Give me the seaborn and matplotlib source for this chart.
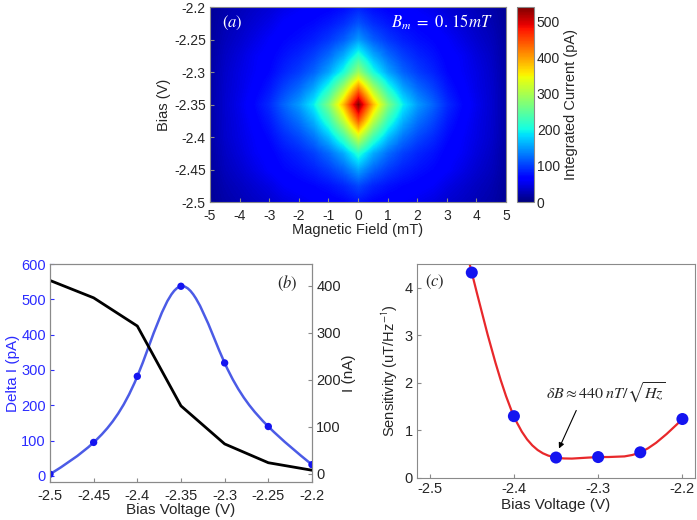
import numpy as np
import pandas as pd
import seaborn as sns
import matplotlib
matplotlib.use("Agg")
import matplotlib.pyplot as plt
from matplotlib.path import Path
from matplotlib.patches import PathPatch

# ---------------- data ----------------
# (a) heatmap: profile through the peak along the field axis (B >= 0, mirrored)
field_offsets = [0, 0.5, 1, 1.5, 2, 2.5, 3, 3.5, 4, 4.5, 5]
field_profile = [540, 385, 272, 195, 150, 122, 90, 70, 52, 38, 18]
# profile through the peak along the bias axis (B = 0)
bias_levels = [-2.5, -2.475, -2.45, -2.425, -2.4, -2.375, -2.35,
               -2.325, -2.3, -2.275, -2.25, -2.225, -2.2]
bias_profile = [78, 105, 155, 215, 325, 440, 540, 420, 290, 215, 150, 112, 85]
peak_current = 540

field_ticks = [-5, -4, -3, -2, -1, 0, 1, 2, 3, 4, 5]
bias_ticks = [-2.5, -2.45, -2.4, -2.35, -2.3, -2.25, -2.2]
bias_tick_labels = ["-2.5", "-2.45", "-2.4", "-2.35", "-2.3", "-2.25", "-2.2"]
cbar_ticks = [0, 100, 200, 300, 400, 500]

# (b)
bias_b = [-2.5, -2.45, -2.4, -2.35, -2.3, -2.25, -2.2]
delta_i = [5, 95, 282, 537, 320, 140, 32]
current_na = [411, 374, 314, 144, 63, 23, 7]
delta_ticks = [0, 100, 200, 300, 400, 500, 600]
current_ticks = [0, 100, 200, 300, 400]

# (c)
bias_c = [-2.45, -2.4, -2.35, -2.3, -2.25, -2.2]
sensitivity = [4.32, 1.3, 0.43, 0.44, 0.54, 1.24]
c_xticks = [-2.5, -2.4, -2.3, -2.2]
c_xtick_labels = ["-2.5", "-2.4", "-2.3", "-2.2"]
c_yticks = [0, 1, 2, 3, 4]

# ---------------- style ----------------
sns.set_style("ticks")
plt.rcParams["font.family"] = ["Liberation Sans", "DejaVu Sans"]
plt.rcParams["mathtext.fontset"] = "stix"
SPINE = "#8a8a8a"
BLUE_TXT = "#2b2bff"


def spline_path(x, y, extend_left=0.0):
    x = np.asarray(x, float)
    y = np.asarray(y, float)
    n = len(x)
    h = np.diff(x)
    A = np.zeros((n, n))
    r = np.zeros(n)
    A[0, 0] = 1
    A[-1, -1] = 1
    for i in range(1, n - 1):
        A[i, i - 1] = h[i - 1]
        A[i, i] = 2 * (h[i - 1] + h[i])
        A[i, i + 1] = h[i]
        r[i] = 6 * ((y[i + 1] - y[i]) / h[i] - (y[i] - y[i - 1]) / h[i - 1])
    M = np.linalg.solve(A, r)
    m = np.zeros(n)
    for i in range(n - 1):
        m[i] = (y[i + 1] - y[i]) / h[i] - h[i] * (2 * M[i] + M[i + 1]) / 6
    m[-1] = (y[-1] - y[-2]) / h[-1] + h[-1] * (M[-2] + 2 * M[-1]) / 6
    verts, codes = [], []
    if extend_left > 0:
        verts.append((x[0] - extend_left, y[0] - extend_left * m[0]))
        codes.append(Path.MOVETO)
        verts.append((x[0], y[0]))
        codes.append(Path.LINETO)
    else:
        verts.append((x[0], y[0]))
        codes.append(Path.MOVETO)
    for i in range(n - 1):
        d = h[i] / 3
        verts += [(x[i] + d, y[i] + m[i] * d),
                  (x[i + 1] - d, y[i + 1] - m[i + 1] * d),
                  (x[i + 1], y[i + 1])]
        codes += [Path.CURVE4] * 3
    return Path(verts, codes)


def style_spines(ax):
    for s in ax.spines.values():
        s.set_color(SPINE)
        s.set_linewidth(0.8)


fig = plt.figure(figsize=(6.97, 5.2), dpi=100)
ax_a = fig.add_axes([0.3013, 0.6115, 0.4247, 0.375])
cax = fig.add_axes([0.7418, 0.6115, 0.0244, 0.375])
ax_b = fig.add_axes([0.0717, 0.0731, 0.3759, 0.4192])
ax_c = fig.add_axes([0.5983, 0.0808, 0.3989, 0.4115])

# ---------------- (a) heatmap ----------------
fo = np.asarray(field_offsets, float)
fp = np.asarray(field_profile, float)
field_full = np.concatenate([-fo[:0:-1], fo])
prof_full = np.concatenate([fp[:0:-1], fp])
dB = np.log(peak_current / prof_full)[None, :]
dV = np.log(peak_current / np.asarray(bias_profile, float))[:, None]
d_diamond = dB + dV                      # sharp diamond near the peak
d_round = np.sqrt(dB ** 2 + dV ** 2)     # rounded contours far out
w = np.clip((d_diamond - 1.0) / 2.0, 0, 1)
Z = peak_current * np.exp(-((1 - w) * d_diamond + w * d_round))
heat = pd.DataFrame(Z, index=bias_levels, columns=field_full)

dx = (field_full[1] - field_full[0]) / 2
dy = (bias_levels[1] - bias_levels[0]) / 2
img = ax_a.imshow(heat.values, origin="lower", cmap="jet", vmin=0, vmax=540,
                  aspect="auto", interpolation="bilinear",
                  interpolation_stage="data",
                  extent=[field_full[0] - dx, field_full[-1] + dx,
                          bias_levels[0] - dy, bias_levels[-1] + dy])
ax_a.set_xlim(-5, 5)
ax_a.set_ylim(-2.5, -2.2)
ax_a.set_xticks(field_ticks)
ax_a.set_xticklabels([str(t) for t in field_ticks])
ax_a.set_yticks(bias_ticks)
ax_a.set_yticklabels(bias_tick_labels)
ax_a.tick_params(direction="in", length=3, labelsize=10, color=SPINE, pad=3)
ax_a.tick_params(axis="x", pad=5)
ax_a.set_xlabel("Magnetic Field (mT)", fontsize=10.5, labelpad=0)
ax_a.set_ylabel("Bias (V)", fontsize=10.5, labelpad=2)
style_spines(ax_a)
ax_a.text(0.04, 0.92, r"$(a)$", transform=ax_a.transAxes, color="white",
          fontsize=12, ha="left", va="center")
ax_a.text(0.955, 0.92, r"$B_m\ =\ 0.\,15mT$", transform=ax_a.transAxes,
          color="white", fontsize=12, ha="right", va="center")

cb = fig.colorbar(img, cax=cax)
cb.set_ticks(cbar_ticks)
cb.ax.tick_params(labelsize=10, length=0, pad=2)
cb.set_label("Integrated Current (pA)", fontsize=10.5, labelpad=3)
cb.outline.set_edgecolor(SPINE)
cb.outline.set_linewidth(0.8)

# ---------------- (b) ----------------
ax_b2 = ax_b.twinx()
ax_b.add_patch(PathPatch(spline_path(bias_b, delta_i), fill=False,
                         edgecolor="#4b5be6", lw=1.8, zorder=2))
sns.scatterplot(x=bias_b, y=delta_i, ax=ax_b, color="#1414f0", s=28,
                edgecolor="none", zorder=3)
sns.lineplot(x=bias_b, y=current_na, ax=ax_b2, color="black", lw=2,
             sort=False, estimator=None)
ax_b.set_xlim(-2.5, -2.2)
ax_b.set_ylim(-17, 600)
ax_b2.set_ylim(-18, 446)
ax_b.set_xticks(bias_ticks)
ax_b.set_xticklabels(bias_tick_labels)
ax_b.set_yticks(delta_ticks)
ax_b2.set_yticks(current_ticks)
ax_b.tick_params(axis="x", direction="in", length=3, labelsize=10.5, color=SPINE, pad=5)
ax_b.tick_params(axis="y", direction="in", length=3, labelsize=10.5,
                 colors=BLUE_TXT, pad=3)
ax_b2.tick_params(axis="y", direction="in", length=3, labelsize=10.5,
                  color=SPINE, pad=3)
ax_b.set_xlabel("Bias Voltage (V)", fontsize=11, labelpad=0)
ax_b.set_ylabel("Delta I (pA)", fontsize=11, color=BLUE_TXT, labelpad=1)
ax_b2.set_ylabel("I (nA)", fontsize=11, labelpad=1)
style_spines(ax_b)
style_spines(ax_b2)
ax_b.text(0.905, 0.913, r"$(b)$", transform=ax_b.transAxes, fontsize=12,
          ha="center", va="center")

# ---------------- (c) ----------------
ax_c.add_patch(PathPatch(spline_path(bias_c, sensitivity, extend_left=0.01),
                         fill=False, edgecolor="#e8282b", lw=1.6, zorder=2))
sns.scatterplot(x=bias_c, y=sensitivity, ax=ax_c, color="#1414f0", s=75,
                edgecolor="none", zorder=3)
ax_c.set_xlim(-2.515, -2.185)
ax_c.set_ylim(0, 4.5)
ax_c.set_xticks(c_xticks)
ax_c.set_xticklabels(c_xtick_labels)
ax_c.set_yticks(c_yticks)
ax_c.tick_params(direction="in", length=3, labelsize=10.5, color=SPINE, pad=3)
ax_c.set_xlabel("Bias Voltage (V)", fontsize=11, labelpad=1)
ax_c.set_ylabel(r"Sensitivity (uT/Hz$^{\mathsf{-1}}$)", fontsize=10.5, labelpad=3)
style_spines(ax_c)
ax_c.text(0.064, 0.916, r"$(c)$", transform=ax_c.transAxes, fontsize=12,
          ha="center", va="center")
ax_c.text(-2.3615, 1.78, r"$\delta B \approx 440\;nT/\sqrt{Hz}$", fontsize=11.5,
          ha="left", va="center")
ax_c.annotate("", xy=(-2.3465, 0.62), xytext=(-2.326, 1.42),
              arrowprops=dict(arrowstyle="-|>", color="black", lw=0.8,
                              mutation_scale=8, shrinkA=0, shrinkB=0))

fig.savefig("out.png", dpi=100)
